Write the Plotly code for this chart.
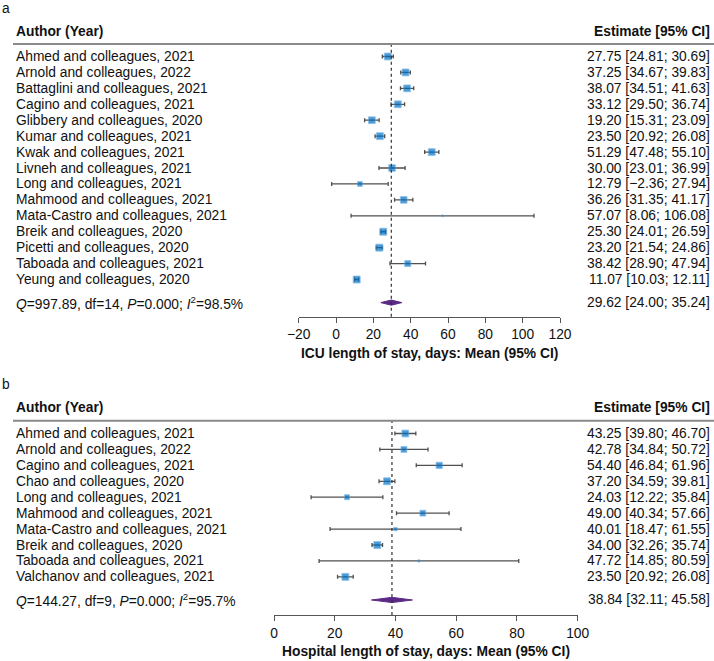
import plotly.graph_objects as go

# ---------------- data ----------------
authors_a = ["Ahmed and colleagues, 2021", "Arnold and colleagues, 2022", "Battaglini and colleagues, 2021",
             "Cagino and colleagues, 2021", "Glibbery and colleagues, 2020", "Kumar and colleagues, 2021",
             "Kwak and colleagues, 2021", "Livneh and colleagues, 2021", "Long and colleagues, 2021",
             "Mahmood and colleagues, 2021", "Mata-Castro and colleagues, 2021", "Breik and colleagues, 2020",
             "Picetti and colleagues, 2020", "Taboada and colleagues, 2021", "Yeung and colleagues, 2020"]
est_a = [27.75, 37.25, 38.07, 33.12, 19.20, 23.50, 51.29, 30.00, 12.79, 36.26, 57.07, 25.30, 23.20, 38.42, 11.07]
lo_a = [24.81, 34.67, 34.51, 29.50, 15.31, 20.92, 47.48, 23.01, -2.36, 31.35, 8.06, 24.01, 21.54, 28.90, 10.03]
hi_a = [30.69, 39.83, 41.63, 36.74, 23.09, 26.08, 55.10, 36.99, 27.94, 41.17, 106.08, 26.59, 24.86, 47.94, 12.11]
weight_a = [7.1, 7.1, 7.0, 7.0, 7.0, 7.1, 7.0, 6.8, 5.0, 6.9, 1.0, 7.2, 7.2, 6.2, 7.2]
pooled_a = (29.62, 24.00, 35.24)
het_a = "<i>Q</i>=997.89, df=14, <i>P</i>=0.000; <i>I</i><sup>2</sup>=98.5%"
title_a = "ICU length of stay, days: Mean (95% CI)"
ticks_a = [-20, 0, 20, 40, 60, 80, 100, 120]

authors_b = ["Ahmed and colleagues, 2021", "Arnold and colleagues, 2022", "Cagino and colleagues, 2021",
             "Chao and colleagues, 2020", "Long and colleagues, 2021", "Mahmood and colleagues, 2021",
             "Mata-Castro and colleagues, 2021", "Breik and colleagues, 2020", "Taboada and colleagues, 2021",
             "Valchanov and colleagues, 2021"]
est_b = [43.25, 42.78, 54.40, 37.20, 24.03, 49.00, 40.01, 34.00, 47.72, 23.50]
lo_b = [39.80, 34.84, 46.84, 34.59, 12.22, 40.34, 18.47, 32.26, 14.85, 20.92]
hi_b = [46.70, 50.72, 61.96, 39.81, 35.84, 57.66, 61.55, 35.74, 80.59, 26.08]
weight_b = [11.3, 9.8, 10.4, 11.5, 8.3, 9.6, 5.6, 11.6, 3.6, 11.5]
pooled_b = (38.84, 32.11, 45.58)
het_b = "<i>Q</i>=144.27, df=9, <i>P</i>=0.000; <i>I</i><sup>2</sup>=95.7%"
title_b = "Hospital length of stay, days: Mean (95% CI)"
ticks_b = [0, 20, 40, 60, 80, 100]

# ---------------- layout constants (pixels of the final screenshot) ----------------
OFF = 0
W, H = 714, 661
FONT = "Arial, Liberation Sans, sans-serif"
FS = 13.8
TXT = "#111111"
BLUE = "#0070c4"
BLUE_EDGE = "#5aa6df"
CI_COL = "#505050"
PURPLE = "#5b2a86"
ROW = 15.93


def py(p):
    return 1 - (p - OFF) / H


def px(p):
    return (p - OFF) / W


def fmt(v):
    return f"{v:.2f}".replace("-", "\u2212")


fig = go.Figure()
annotations = []
shapes = []

panels = [
    dict(label="a", authors=authors_a, est=est_a, lo=lo_a, hi=hi_a, w=weight_a, pooled=pooled_a,
         het=het_a, title=title_a, ticks=ticks_a, xr=[-20, 120], xpx=(298.7, 560.0),
         label_y=8.5, head_y=31.5, line_y=44, row0=56.5, axis_y=316.7, title_y=353,
         xa="x", ya="y"),
    dict(label="b", authors=authors_b, est=est_b, lo=lo_b, hi=hi_b, w=weight_b, pooled=pooled_b,
         het=het_b, title=title_b, ticks=ticks_b, xr=[0, 100], xpx=(274.0, 577.7),
         label_y=384.5, head_y=407, line_y=420.7, row0=433.5, axis_y=615, title_y=651,
         xa="x2", ya="y2"),
]

layout_axes = {}
for k, p in enumerate(panels):
    n = len(p["authors"])
    ys = list(range(n))
    ypool = n + 0.45
    top_val = (p["line_y"] - p["row0"]) / ROW
    bot_val = (p["axis_y"] - p["row0"]) / ROW
    wmax = max(p["w"])
    sizes = [max(1.8, 7.0 * w / wmax) for w in p["w"]]

    # CI lines + squares
    fig.add_trace(go.Scatter(
        x=p["est"], y=ys, mode="markers", xaxis=p["xa"], yaxis=p["ya"],
        marker=dict(symbol="square", size=sizes, color=BLUE, line=dict(color=BLUE_EDGE, width=0.8)),
        error_x=dict(type="data", symmetric=False,
                     array=[h - e for h, e in zip(p["hi"], p["est"])],
                     arrayminus=[e - l for e, l in zip(p["est"], p["lo"])],
                     color=CI_COL, thickness=1.3, width=2),
        hoverinfo="skip", showlegend=False, cliponaxis=False))

    # pooled diamond
    e, l, h = p["pooled"]
    dh = 2.6 / ROW
    fig.add_trace(go.Scatter(
        x=[l, e, h, e, l], y=[ypool, ypool - dh, ypool, ypool + dh, ypool],
        mode="lines", fill="toself", fillcolor=PURPLE, line=dict(color=PURPLE, width=1),
        xaxis=p["xa"], yaxis=p["ya"], hoverinfo="skip", showlegend=False))

    # dashed pooled line
    shapes.append(dict(type="line", xref=p["xa"], yref=f"{p['ya']} domain", x0=e, x1=e, y0=0, y1=1,
                       line=dict(color="#333333", width=1.2, dash="3px,3px")))
    # header separator
    shapes.append(dict(type="line", xref="paper", yref="paper", x0=px(13), x1=px(714),
                       y0=py(p["line_y"]), y1=py(p["line_y"]), line=dict(color="#8a8a8a", width=2)))

    # text
    annotations.append(dict(text=p["label"], x=px(0), y=py(p["label_y"]), xref="paper", yref="paper",
                            xanchor="left", yanchor="middle", showarrow=False,
                            font=dict(family=FONT, size=FS, color=TXT)))
    annotations.append(dict(text="<b>Author (Year)</b>", x=px(14), y=py(p["head_y"]), xref="paper",
                            yref="paper", xanchor="left", yanchor="middle", showarrow=False,
                            font=dict(family=FONT, size=FS, color=TXT)))
    annotations.append(dict(text="<b>Estimate [95% CI]</b>", x=px(712), y=py(p["head_y"]), xref="paper",
                            yref="paper", xanchor="right", yanchor="middle", showarrow=False,
                            font=dict(family=FONT, size=FS, color=TXT)))
    for i, a in enumerate(p["authors"]):
        annotations.append(dict(text=a, x=px(14), y=i, xref="paper", yref=p["ya"], xanchor="left",
                                yanchor="middle", showarrow=False, font=dict(family=FONT, size=FS, color=TXT)))
        annotations.append(dict(text=f"{fmt(p['est'][i])} [{fmt(p['lo'][i])}; {fmt(p['hi'][i])}]",
                                x=px(712), y=i, xref="paper", yref=p["ya"], xanchor="right",
                                yanchor="middle", showarrow=False, font=dict(family=FONT, size=FS, color=TXT)))
    annotations.append(dict(text=p["het"], x=px(14), y=ypool, xref="paper", yref=p["ya"], xanchor="left",
                            yanchor="middle", showarrow=False, font=dict(family=FONT, size=FS, color=TXT)))
    annotations.append(dict(text=f"{fmt(e)} [{fmt(l)}; {fmt(h)}]", x=px(712), y=ypool, xref="paper",
                            yref=p["ya"], xanchor="right", yanchor="middle", showarrow=False,
                            font=dict(family=FONT, size=FS, color=TXT)))
    annotations.append(dict(text=f"<b>{p['title']}</b>", x=0.5, y=py(p["title_y"]), xref=f"{p['xa']} domain",
                            yref="paper", xanchor="center", yanchor="middle", showarrow=False,
                            font=dict(family=FONT, size=FS, color=TXT)))

    xkey = "xaxis" if k == 0 else "xaxis2"
    ykey = "yaxis" if k == 0 else "yaxis2"
    layout_axes[xkey] = dict(domain=[px(p["xpx"][0]), px(p["xpx"][1])], range=p["xr"], anchor=p["ya"],
                             showgrid=False, zeroline=False, showline=True, linecolor="#555555", linewidth=1,
                             ticks="outside", ticklen=5, tickcolor="#555555", tickwidth=1,
                             tickvals=p["ticks"], tickfont=dict(family=FONT, size=FS, color=TXT),
                             fixedrange=True, automargin=False)
    layout_axes[ykey] = dict(domain=[py(p["axis_y"]), py(p["line_y"])], range=[bot_val, top_val],
                             anchor=p["xa"], visible=False, showgrid=False, zeroline=False, fixedrange=True,
                             automargin=False)

fig.update_layout(width=W, height=H, margin=dict(l=0, r=0, t=0, b=0, autoexpand=False),
                  paper_bgcolor="white", plot_bgcolor="white", showlegend=False,
                  annotations=annotations, shapes=shapes,
                  font=dict(family=FONT, size=FS, color=TXT), **layout_axes)

fig.write_html("out.html", config={"displayModeBar": False},
               post_script="document.body.style.margin='0';document.body.style.overflow='hidden';")
